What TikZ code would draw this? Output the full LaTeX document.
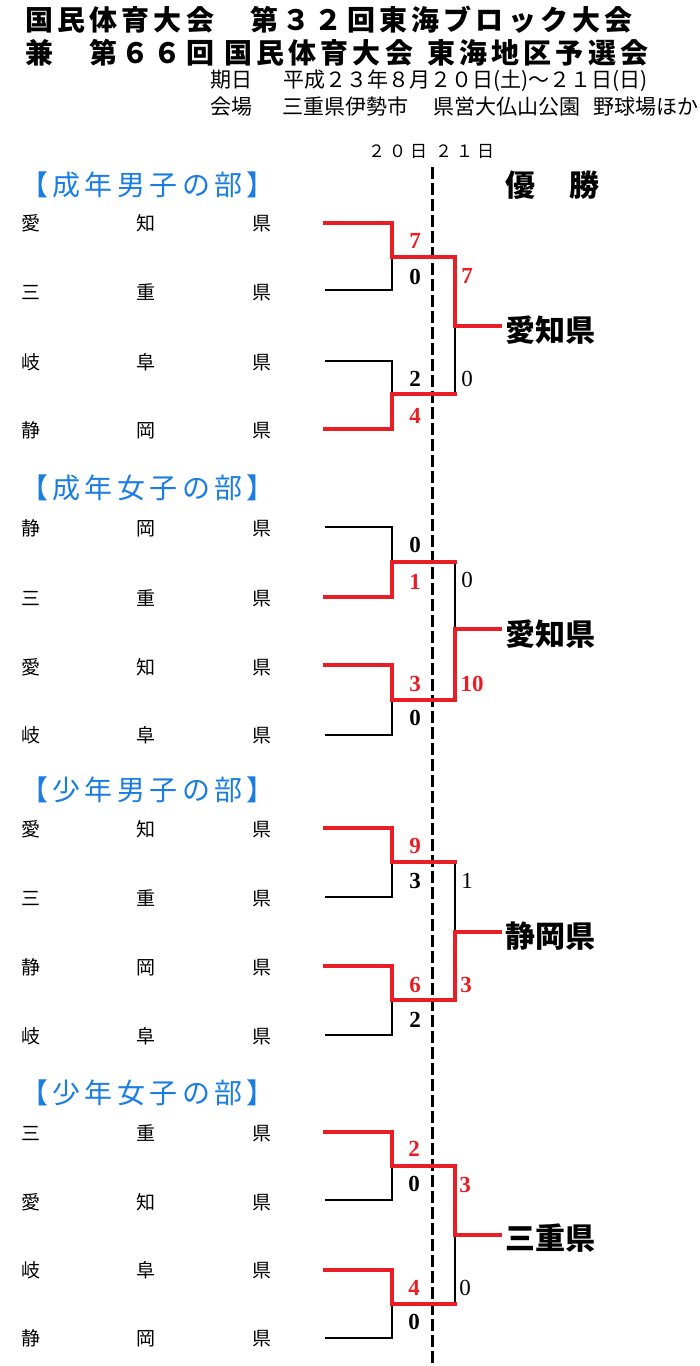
\documentclass[tikz,border=0pt]{standalone}
\usepackage{fontspec}
\setmainfont{Liberation Serif}
\newfontfamily\jp{Noto Sans CJK JP}
\newfontfamily\jpt{Noto Sans CJK JP}[LetterSpace=15]
\newfontfamily\num{Liberation Serif}
\definecolor{rd}{RGB}{232,30,36}
\definecolor{bl}{RGB}{25,125,225}
\newcommand\tbx[1]{\makebox[32.4pt]{#1}}
\newcommand\dbx[1]{\makebox[21pt]{#1}}
\newcommand\tm[3]{\makebox[250pt]{#1\hfill#2\hfill#3}}
\begin{document}
\begin{tikzpicture}[x=1pt,y=-1pt,
  win/.style={draw=rd,line width=4pt,line join=miter,line cap=rect},
  lose/.style={draw=black,line width=1.5pt},
  dashline/.style={draw=black,line width=3pt,dash pattern=on 12pt off 4pt},
  hdr/.style={font=\jpt\bfseries\fontsize{28}{28}\selectfont,inner sep=0,anchor=west},
  sub/.style={font=\jp\fontsize{21}{21}\selectfont,inner sep=0,anchor=west},
  sect/.style={font=\jp\fontsize{28}{28}\selectfont,text=bl,inner sep=0},
  team/.style={font=\jp\fontsize{19}{19}\selectfont,inner sep=0},
  champ/.style={font=\jp\bfseries\fontsize{30}{30}\selectfont,inner sep=0,anchor=west},
  scr/.style={font=\num\bfseries\fontsize{23}{23}\selectfont,text=rd,inner sep=0},
  scb/.style={font=\num\bfseries\fontsize{23}{23}\selectfont,text=black,inner sep=0},
  scf/.style={font=\num\fontsize{23}{23}\selectfont,text=black,inner sep=0}]
\fill[white] (0,0) rectangle (700,1366);
\useasboundingbox (0,0) rectangle (700,1366);

% header
\node[hdr] (h1) at (25,20) {国民体育大会　第３２回東海ブロック大会};
\node[hdr] (h2) at (25,53) {兼　第６６回\hspace{10pt}国民体育大会\hspace{14pt}東海地区予選会};
\node[sub] (h3) at (210,81) {期日\hspace{31pt}平成２３年８月２０日(土)～２１日(日)};
\node[sub] (h4) at (210,107) {会場\hspace{30pt}三重県伊勢市\hspace{25pt}県営大仏山公園\hspace{13pt}野球場ほか};
\node[font=\jp\fontsize{17}{17}\selectfont,inner sep=0,anchor=west] (days) at (366,152) {\dbx{２}\dbx{０}\dbx{日}\hspace{4pt}\dbx{２}\dbx{１}\dbx{日}};
\node[champ] (yusho) at (505,185) {優\hspace{34pt}勝};

% dashed day divider
\coordinate (dtop) at (432,167);
\coordinate (dbot) at (432,1366);
\draw[dashline] (dtop) -- (dbot);

% ===== section 1 =====
\node[sect] (s1) at (147.5,185) {\tbx{【}\tbx{成}\tbx{年}\tbx{男}\tbx{子}\tbx{の}\tbx{部}\tbx{】}};
\node[team] (n11) at (146.5,223) {\tm{愛}{知}{県}};
\node[team] (n12) at (146.5,292) {\tm{三}{重}{県}};
\node[team] (n13) at (146.5,362) {\tm{岐}{阜}{県}};
\node[team] (n14) at (146.5,430) {\tm{静}{岡}{県}};
\coordinate (a1) at (325,223); \coordinate (a2) at (325,290);
\coordinate (a3) at (325,361); \coordinate (a4) at (325,429);
\coordinate (aA) at (392,257); \coordinate (aB) at (392,394);
\coordinate (aAr) at (455,257); \coordinate (aBr) at (455,394);
\coordinate (aC) at (455,326); \coordinate (aW) at (500,326);
\draw[lose] (a2) -| (aA);
\draw[lose] (a3) -| (aB);
\draw[lose] (aC) -- (aBr);
\draw[win] (a1) -| (aA) -- (aAr) -- (aC) -- (aW);
\draw[win] (a4) -| (aB) -- (aBr);
\node[scr] (a1s) at (415,241) {7};
\node[scb] (a2s) at (415,277) {0};
\node[scr] (aAs) at (467,276) {7};
\node[scb] (a3s) at (415,379) {2};
\node[scf] (aBs) at (467,379) {0};
\node[scr] (a4s) at (415,416) {4};
\node[champ] (w1) at (505,330) {愛知県};

% ===== section 2 =====
\node[sect] (s2) at (147.5,488) {\tbx{【}\tbx{成}\tbx{年}\tbx{女}\tbx{子}\tbx{の}\tbx{部}\tbx{】}};
\node[team] (n21) at (146.5,528) {\tm{静}{岡}{県}};
\node[team] (n22) at (146.5,598) {\tm{三}{重}{県}};
\node[team] (n23) at (146.5,667) {\tm{愛}{知}{県}};
\node[team] (n24) at (146.5,735) {\tm{岐}{阜}{県}};
\coordinate (b1) at (325,527); \coordinate (b2) at (325,597);
\coordinate (b3) at (325,665); \coordinate (b4) at (325,735);
\coordinate (bA) at (392,562); \coordinate (bB) at (392,700);
\coordinate (bAr) at (455,562); \coordinate (bBr) at (455,700);
\coordinate (bC) at (455,629); \coordinate (bW) at (500,629);
\draw[lose] (b1) -| (bA);
\draw[lose] (b4) -| (bB);
\draw[lose] (bAr) -- (bC);
\draw[win] (b2) -| (bA) -- (bAr);
\draw[win] (b3) -| (bB) -- (bBr) -- (bC) -- (bW);
\node[scb] (b1s) at (415,545) {0};
\node[scr] (b2s) at (415,582) {1};
\node[scf] (bAs) at (467,580) {0};
\node[scr] (b3s) at (415,684) {3};
\node[scr] (bBs) at (472,684) {10};
\node[scb] (b4s) at (415,718) {0};
\node[champ] (w2) at (505,634) {愛知県};

% ===== section 3 =====
\node[sect] (s3) at (147.5,790) {\tbx{【}\tbx{少}\tbx{年}\tbx{男}\tbx{子}\tbx{の}\tbx{部}\tbx{】}};
\node[team] (n31) at (146.5,829) {\tm{愛}{知}{県}};
\node[team] (n32) at (146.5,898) {\tm{三}{重}{県}};
\node[team] (n33) at (146.5,967) {\tm{静}{岡}{県}};
\node[team] (n34) at (146.5,1036) {\tm{岐}{阜}{県}};
\coordinate (c1) at (325,828); \coordinate (c2) at (325,897);
\coordinate (c3) at (325,966); \coordinate (c4) at (325,1035);
\coordinate (cA) at (392,862); \coordinate (cB) at (392,1000);
\coordinate (cAr) at (455,862); \coordinate (cBr) at (455,1000);
\coordinate (cC) at (455,932); \coordinate (cW) at (500,932);
\draw[lose] (c2) -| (cA);
\draw[lose] (c4) -| (cB);
\draw[lose] (cAr) -- (cC);
\draw[win] (c1) -| (cA) -- (cAr);
\draw[win] (c3) -| (cB) -- (cBr) -- (cC) -- (cW);
\node[scr] (c1s) at (415,846) {9};
\node[scb] (c2s) at (415,881) {3};
\node[scf] (cAs) at (467,881) {1};
\node[scr] (c3s) at (415,985) {6};
\node[scr] (cBs) at (466,985) {3};
\node[scb] (c4s) at (415,1020) {2};
\node[champ] (w3) at (505,936) {静岡県};

% ===== section 4 =====
\node[sect] (s4) at (147.5,1093) {\tbx{【}\tbx{少}\tbx{年}\tbx{女}\tbx{子}\tbx{の}\tbx{部}\tbx{】}};
\node[team] (n41) at (146.5,1133) {\tm{三}{重}{県}};
\node[team] (n42) at (146.5,1202) {\tm{愛}{知}{県}};
\node[team] (n43) at (146.5,1270) {\tm{岐}{阜}{県}};
\node[team] (n44) at (146.5,1338) {\tm{静}{岡}{県}};
\coordinate (d1) at (325,1132); \coordinate (d2) at (325,1200);
\coordinate (d3) at (325,1270); \coordinate (d4) at (325,1338);
\coordinate (dA) at (392,1166); \coordinate (dB) at (392,1304);
\coordinate (dAr) at (455,1166); \coordinate (dBr) at (455,1304);
\coordinate (dC) at (455,1235); \coordinate (dW) at (500,1235);
\draw[lose] (d2) -| (dA);
\draw[lose] (d4) -| (dB);
\draw[lose] (dC) -- (dBr);
\draw[win] (d1) -| (dA) -- (dAr) -- (dC) -- (dW);
\draw[win] (d3) -| (dB) -- (dBr);
\node[scr] (d1s) at (414,1149) {2};
\node[scb] (d2s) at (414,1184) {0};
\node[scr] (dAs) at (465,1185) {3};
\node[scr] (d3s) at (414,1288) {4};
\node[scf] (dBs) at (465,1288) {0};
\node[scb] (d4s) at (414,1322) {0};
\node[champ] (w4) at (505,1238) {三重県};
\end{tikzpicture}
\end{document}
